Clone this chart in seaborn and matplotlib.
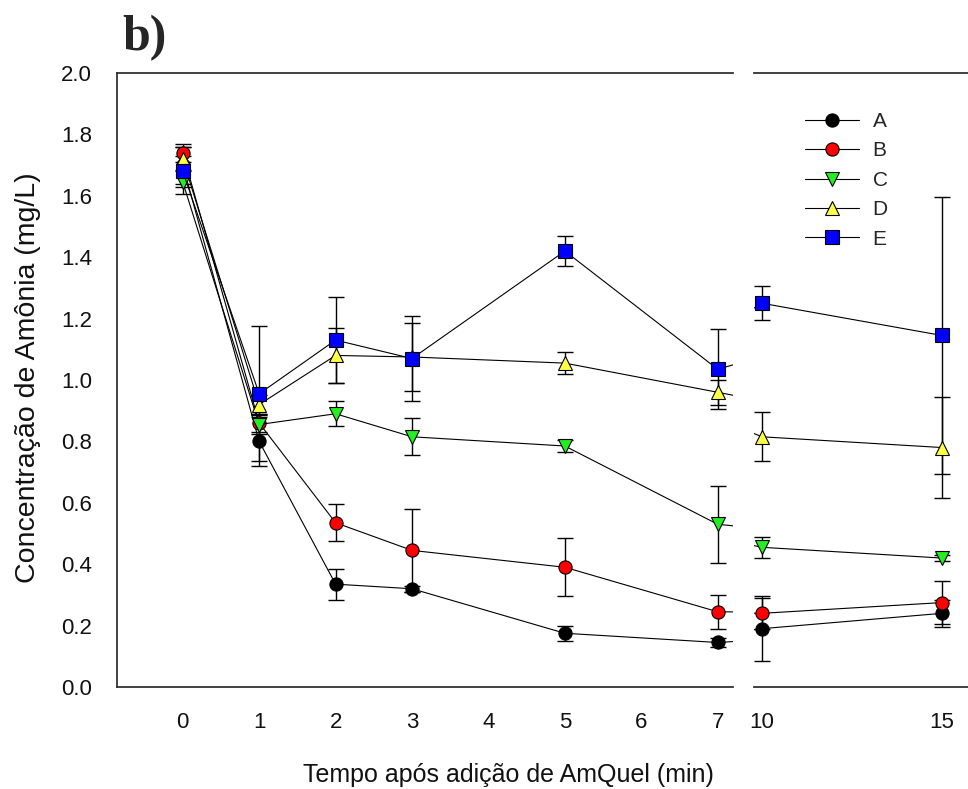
import matplotlib
matplotlib.use("Agg")
import matplotlib.pyplot as plt
import seaborn as sns
import pandas as pd

# ---- data ----
times = [0, 1, 2, 3, 5, 7, 10, 15]
series_names = ["A", "B", "C", "D", "E"]
A = [1.70, 0.80, 0.335, 0.32, 0.175, 0.145, 0.19, 0.24]
A_err = [0.06, 0.08, 0.05, 0.01, 0.025, 0.015, 0.105, 0.045]
B = [1.74, 0.86, 0.535, 0.445, 0.39, 0.245, 0.24, 0.275]
B_err = [0.03, 0.03, 0.06, 0.135, 0.095, 0.055, 0.05, 0.07]
C = [1.645, 0.855, 0.89, 0.815, 0.785, 0.53, 0.455, 0.42]
C_err = [0.04, 0.03, 0.04, 0.06, 0.02, 0.125, 0.035, 0.01]
D = [1.72, 0.92, 1.08, 1.075, 1.055, 0.96, 0.815, 0.78]
D_err = [0.04, 0.03, 0.09, 0.11, 0.035, 0.04, 0.08, 0.165]
E = [1.68, 0.955, 1.13, 1.07, 1.42, 1.035, 1.25, 1.145]
E_err = [0.05, 0.22, 0.14, 0.14, 0.05, 0.13, 0.055, 0.45]

left_ticks = [0, 1, 2, 3, 4, 5, 6, 7]
right_ticks = [10, 15]
y_ticks = [0.0, 0.2, 0.4, 0.6, 0.8, 1.0, 1.2, 1.4, 1.6, 1.8, 2.0]

xlabel = "Tempo após adição de AmQuel (min)"
ylabel = "Concentração de Amônia (mg/L)"
panel_label = "b)"

values = {"A": A, "B": B, "C": C, "D": D, "E": E}
errors = {"A": A_err, "B": B_err, "C": C_err, "D": D_err, "E": E_err}
colors = {"A": "#000000", "B": "#ff0000", "C": "#22ee22", "D": "#ffff44", "E": "#0000ff"}
markers = {"A": "o", "B": "o", "C": "v", "D": "^", "E": "s"}
msizes = {"A": 9.5, "B": 9.5, "C": 10.5, "D": 10.5, "E": 10}

rows = []
for n in series_names:
    for t, v, e in zip(times, values[n], errors[n]):
        rows.append({"series": n, "time": t, "value": v, "err": e})
df = pd.DataFrame(rows)

sns.set_theme(style="white")
plt.rcParams["font.family"] = ["Liberation Sans", "DejaVu Sans"]

W, H = 968, 789
fig = plt.figure(figsize=(W / 100, H / 100), dpi=100)
y0 = 1 - 687 / H
h = (687 - 73) / H
axL = fig.add_axes([117 / W, y0, (733 - 117) / W, h])
axR = fig.add_axes([754 / W, y0, (W - 754) / W, h])

for ax in (axL, axR):
    for i, n in enumerate(series_names):
        sub = df[df["series"] == n]
        ax.errorbar(sub["time"], sub["value"], yerr=sub["err"], fmt="none",
                    ecolor="black", elinewidth=1.0, capsize=6, capthick=1.0,
                    zorder=2 + i * 0.1)
        sns.lineplot(data=sub, x="time", y="value", ax=ax, color="black",
                     linewidth=0.8, marker=markers[n], markersize=msizes[n],
                     markerfacecolor=colors[n], markeredgecolor="black",
                     markeredgewidth=0.8, label=n, errorbar=None,
                     legend=False, zorder=3 + i * 0.1)
    ax.set_ylim(0, 2.0)
    ax.set_xlabel("")
    ax.set_ylabel("")
    ax.grid(False)
    ax.tick_params(axis="both", direction="out", length=7, width=1.1,
                   color="#333333", labelsize=16, labelcolor="#111111")

axL.set_xlim(-0.86, 7.2)
axR.set_xlim(9.78, 15.72)
axL.set_xticks(left_ticks)
axL.set_xticklabels([str(t) for t in left_ticks])
axR.set_xticks(right_ticks)
axR.set_xticklabels([str(t) for t in right_ticks])
axL.set_yticks(y_ticks)
axL.set_yticklabels([f"{v:.1f}" for v in y_ticks])
axR.set_yticks([])
axL.tick_params(axis="x", pad=11)
axR.tick_params(axis="x", pad=11)
axL.tick_params(axis="y", pad=11)

for sp in ["left", "bottom", "top"]:
    axL.spines[sp].set_color("#333333")
    axL.spines[sp].set_linewidth(1.3)
axL.spines["right"].set_visible(False)
for sp in ["bottom", "top"]:
    axR.spines[sp].set_color("#333333")
    axR.spines[sp].set_linewidth(1.3)
axR.spines["left"].set_visible(False)
axR.spines["right"].set_visible(False)

fig.text(508 / W, 1 - 775 / H, xlabel, ha="center", va="center", fontsize=18, color="#111111")
fig.text(28 / W, 1 - 378 / H, ylabel, ha="center", va="center", rotation=90,
         fontsize=20.5, color="#111111")
fig.text(122 / W, 1 - 50 / H, panel_label, ha="left", va="baseline",
         fontsize=36, fontweight="bold", family=["Liberation Serif", "DejaVu Serif"])

handles, labels = axL.get_legend_handles_labels()
fig.legend(handles, labels, loc="upper left", bbox_to_anchor=(805 / W, 1 - 112 / H),
           frameon=False, fontsize=15, handlelength=2.6, handletextpad=0.65,
           labelspacing=0.5, borderpad=0, borderaxespad=0)

fig.savefig("out.png", dpi=100)
